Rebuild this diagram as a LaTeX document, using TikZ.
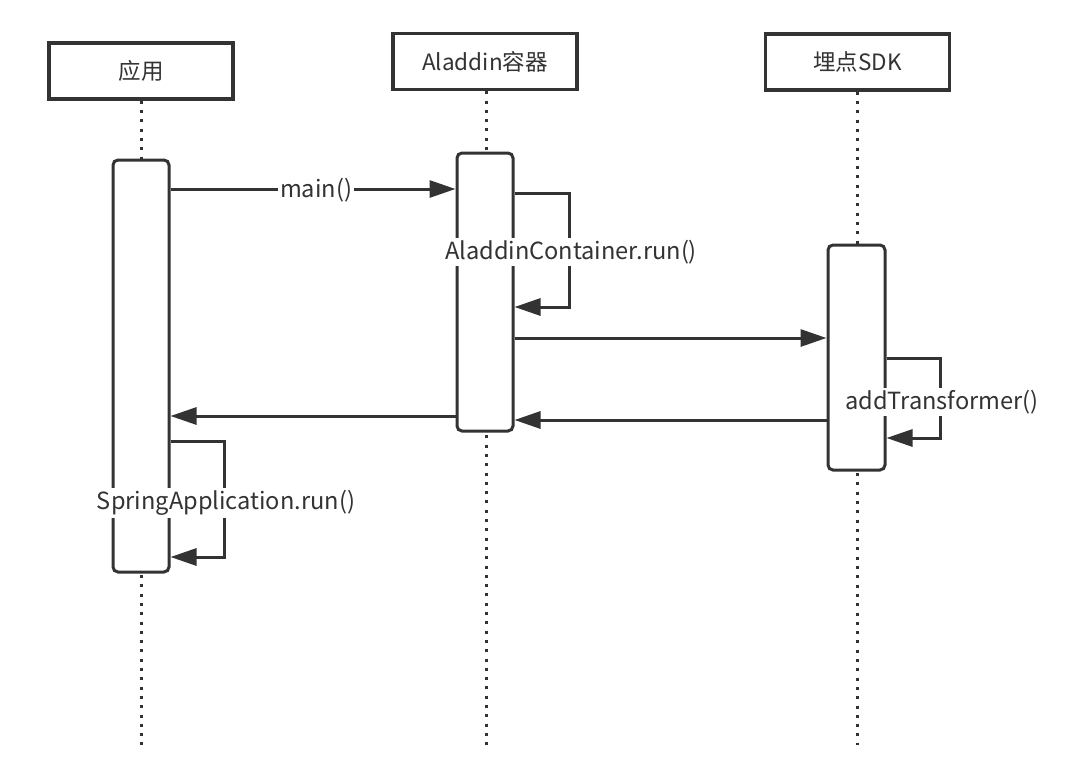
\documentclass[tikz,border=0pt]{standalone}
\usepackage{fontspec}
\setmainfont{Noto Sans CJK SC}
\usetikzlibrary{arrows.meta}
\definecolor{ink}{HTML}{333333}
\begin{document}
\begin{tikzpicture}[x=1pt,y=-1pt,
  hdr/.style={draw=ink,line width=3.5pt,fill=white,minimum width=184pt,minimum height=56pt,inner sep=0pt,font=\fontsize{22.5}{22.5}\selectfont,text=ink},
  act/.style={draw=ink,line width=3pt,fill=white,rounded corners=5pt,inner sep=0pt,minimum width=56pt},
  life/.style={draw=ink,line width=3pt,dash pattern=on 3pt off 6.3pt},
  msg/.style={draw=ink,line width=3pt,-{Triangle[length=26pt,width=17pt]}},
  lbl/.style={fill=white,inner sep=2pt,text=ink,font=\fontsize{23.6}{23.6}\selectfont}]
\useasboundingbox (0,0) rectangle (1080,777);
% headers
\node[hdr] (h1) at (141,71) {应用};
\node[hdr] (h2) at (485,61.5) {Aladdin容器};
\node[hdr] (h3) at (857.5,62) {埋点SDK};
% lifeline ends
\coordinate (e1) at (141,745);
\coordinate (e2) at (486,745);
\coordinate (e3) at (857,745);
\draw[life] (h1.south) -- (e1);
\draw[life] (h2.south -| e2) -- (e2);
\draw[life] (h3.south -| e3) -- (e3);
% activations
\node[act,minimum height=412pt] (a1) at (141,366) {};
\node[act,minimum height=278pt] (a2) at (485,292) {};
\node[act,minimum height=225pt,minimum width=57pt] (a3) at (856.5,357.5) {};
% messages
\draw[msg] (a1.east |- 0,189) -- (a2.west |- 0,189);
\draw[msg] (a2.east |- 0,193) -- (569,193) -- (569,307) -- (a2.east |- 0,307);
\draw[msg] (a2.east |- 0,338) -- (a3.west |- 0,338);
\draw[msg] (a3.east |- 0,358) -- (940,358) -- (940,438) -- (a3.east |- 0,438);
\draw[msg] (a3.west |- 0,420) -- (a2.east |- 0,420);
\draw[msg] (a2.west |- 0,416) -- (a1.east |- 0,416);
\draw[msg] (a1.east |- 0,441) -- (224,441) -- (224,557) -- (a1.east |- 0,557);
% labels
\node[lbl] (l1) at (316,190) {main()};
\node[lbl] (l2) at (571,252) {AladdinContainer.run()};
\node[lbl] (l3) at (942,402) {addTransformer()};
\node[lbl] (l4) at (226,503) {SpringApplication.run()};
\end{tikzpicture}
\end{document}
